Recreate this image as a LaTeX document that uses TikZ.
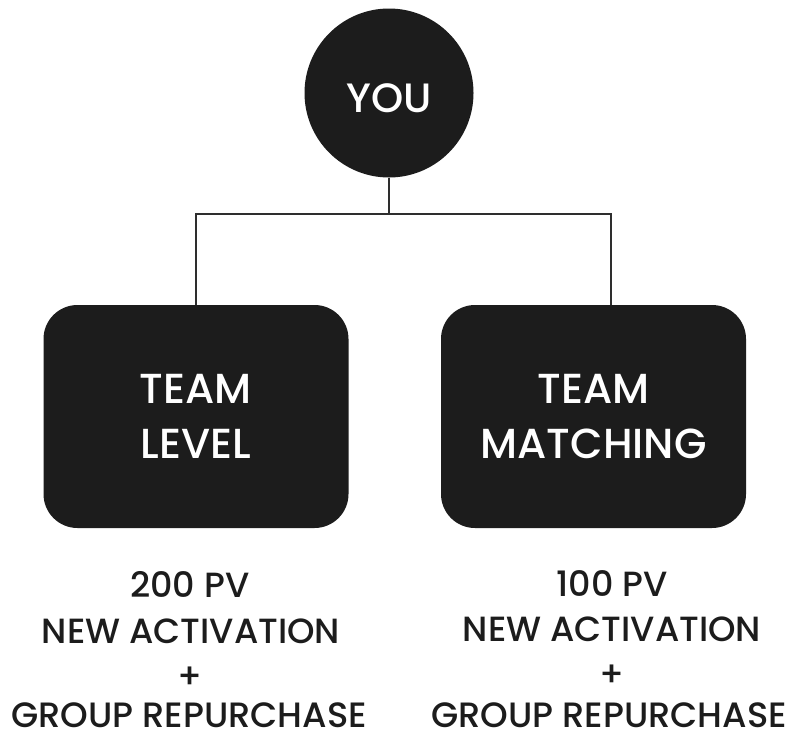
\documentclass[tikz,border=0pt]{standalone}
\usepackage{fontspec}
\setmainfont{Poppins Medium}
\definecolor{ink}{HTML}{1C1C1C}
\definecolor{wire}{HTML}{2E2E2E}
\begin{document}
\begin{tikzpicture}[x=1pt,y=-1pt,
  bubble/.style={circle,fill=ink,text=white,minimum size=169pt,inner sep=0pt,
    font=\fontsize{41}{41}\selectfont,text height=38pt,text depth=0pt},
  card/.style={rectangle,rounded corners=34pt,fill=ink,text=white,
    minimum width=305pt,minimum height=223pt,inner sep=0pt,align=center,
    font=\fontsize{42}{55}\selectfont},
  caption/.style={anchor=base,inner sep=0pt,text=ink,text depth=0pt,font=\fontsize{35}{35}\selectfont},
  bigcaption/.style={caption,font=\fontsize{35.2}{35.2}\selectfont},
  wireline/.style={draw=wire,line width=2pt}]
\useasboundingbox[fill=white] (0,0) rectangle (794,739);
\node[bubble] (you) at (389,93) {YOU};
\node[card] (lbox) at (196,416.5) {TEAM\\LEVEL};
\node[card] (rbox) at (593.5,416.5) {TEAM\\MATCHING};
\coordinate (j) at (389,214);
\coordinate (rtop) at (611,305);
\draw[wireline] (you.south) -- (j);
\draw[wireline] (lbox.north) |- (j) -| (rtop);
\node[caption] (l1) at (190,597) {200 PV};
\node[caption] (l2) at (191,643) {NEW ACTIVATION};
\node[caption] (l3) at (190,688) {+};
\node[bigcaption] (l4) at (189,727) {GROUP REPURCHASE};
\node[caption] (r1) at (612,596) {100 PV};
\node[caption] (r2) at (612,641) {NEW ACTIVATION};
\node[caption] (r3) at (612,686) {+};
\node[bigcaption] (r4) at (609,727) {GROUP REPURCHASE};
\end{tikzpicture}
\end{document}
